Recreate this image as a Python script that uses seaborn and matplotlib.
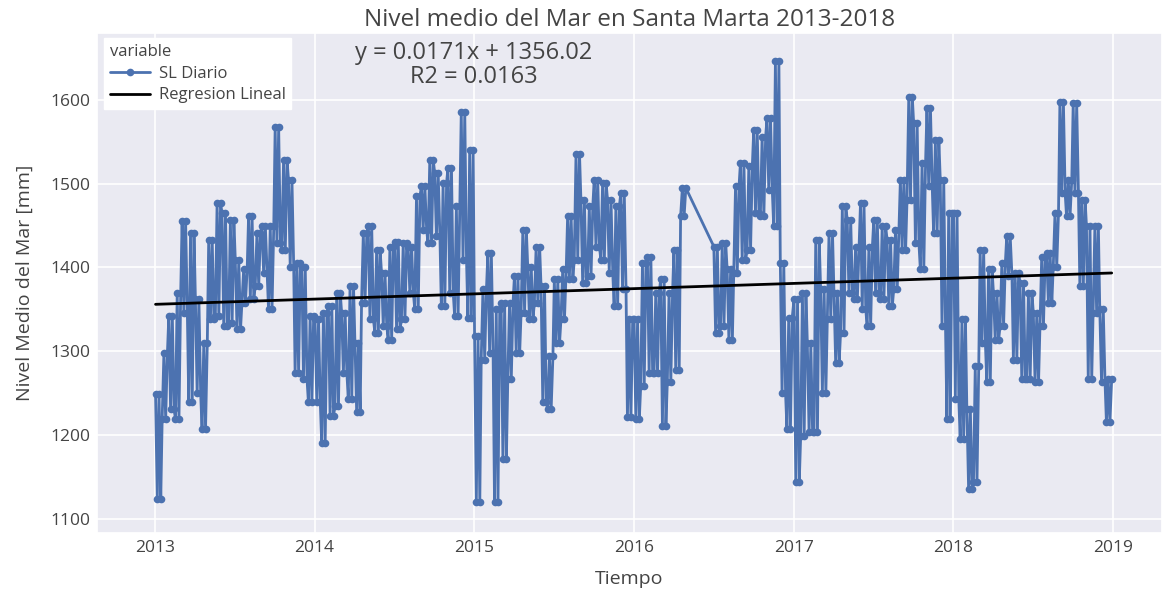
import pandas as pd
import seaborn as sns
import matplotlib.pyplot as plt
import matplotlib.dates as mdates

# Daily sea level read off the chart as half-month windows: upper and lower
# edge of the band in each window (mm). 2016 has a gap from May to early July.
win_full = list(range(24))
win_2016 = [0, 1, 2, 3, 4, 5, 6, 7, 12, 13, 14, 15, 16, 17, 18, 19, 20, 21, 22, 23]

hi_2013 = [1249, 1298, 1342, 1370, 1455, 1441, 1362, 1310, 1433, 1477, 1465, 1457,
           1409, 1398, 1461, 1441, 1449, 1449, 1568, 1528, 1505, 1405, 1401, 1342]
lo_2013 = [1124, 1219, 1231, 1219, 1346, 1239, 1250, 1207, 1338, 1342, 1330, 1334,
           1326, 1358, 1362, 1378, 1394, 1350, 1429, 1421, 1401, 1274, 1267, 1239]

hi_2014 = [1338, 1346, 1354, 1370, 1346, 1378, 1310, 1441, 1449, 1421, 1394, 1425,
           1431, 1429, 1425, 1485, 1497, 1528, 1513, 1501, 1519, 1473, 1586, 1540]
lo_2014 = [1239, 1191, 1223, 1235, 1274, 1243, 1227, 1358, 1338, 1322, 1330, 1314,
           1326, 1338, 1370, 1350, 1445, 1429, 1437, 1354, 1370, 1342, 1409, 1340]

hi_2015 = [1318, 1374, 1417, 1350, 1358, 1358, 1390, 1445, 1401, 1425, 1378, 1294,
           1386, 1398, 1461, 1536, 1481, 1473, 1505, 1501, 1481, 1473, 1489, 1338]
lo_2015 = [1120, 1290, 1298, 1120, 1171, 1267, 1298, 1346, 1338, 1358, 1239, 1231,
           1310, 1338, 1386, 1409, 1382, 1390, 1425, 1409, 1394, 1354, 1374, 1221]

hi_2016 = [1338, 1405, 1413, 1370, 1386, 1370, 1421, 1495,
           1425, 1429, 1398, 1497, 1525, 1521, 1564, 1556, 1578, 1646, 1405, 1340]
lo_2016 = [1219, 1259, 1274, 1274, 1211, 1263, 1278, 1461,
           1322, 1330, 1314, 1394, 1409, 1421, 1465, 1461, 1493, 1450, 1250, 1207]

hi_2017 = [1362, 1370, 1310, 1433, 1374, 1441, 1370, 1473, 1457, 1425, 1477, 1425,
           1457, 1449, 1433, 1445, 1505, 1604, 1572, 1525, 1590, 1552, 1505, 1465]
lo_2017 = [1144, 1199, 1203, 1203, 1250, 1338, 1286, 1322, 1370, 1362, 1350, 1330,
           1370, 1362, 1354, 1374, 1421, 1481, 1429, 1398, 1497, 1441, 1330, 1219]

hi_2018 = [1465, 1338, 1231, 1282, 1421, 1398, 1370, 1405, 1437, 1394, 1382, 1370,
           1346, 1413, 1417, 1465, 1598, 1505, 1596, 1481, 1449, 1449, 1350, 1267]
lo_2018 = [1243, 1195, 1136, 1144, 1310, 1263, 1314, 1330, 1390, 1290, 1267, 1267,
           1263, 1330, 1358, 1401, 1489, 1461, 1489, 1378, 1267, 1346, 1263, 1215]

# regression shown on the chart (x = days since first record)
slope = 0.0171
intercept = 1356.02
r2 = 0.0163

years = {
    2013: (win_full, hi_2013, lo_2013),
    2014: (win_full, hi_2014, lo_2014),
    2015: (win_full, hi_2015, lo_2015),
    2016: (win_2016, hi_2016, lo_2016),
    2017: (win_full, hi_2017, lo_2017),
    2018: (win_full, hi_2018, lo_2018),
}

# within each window the daily values swing between the band edges
rows = []
for yr, (wins, his, los) in years.items():
    for k, h, l in zip(wins, his, los):
        start = pd.Timestamp(yr, 1, 1) + pd.Timedelta(days=k * 365 / 24)
        seq = [h, l, h, l] if k % 2 == 0 else [l, h, l, h]
        for d, v in zip([1, 5, 9, 13], seq):
            rows.append((start + pd.Timedelta(days=d), v))
df = pd.DataFrame(rows, columns=["Tiempo", "SL Diario"])

t0 = df["Tiempo"].min()
df["Regresion Lineal"] = intercept + slope * (df["Tiempo"] - t0).dt.days

sns.set_theme(style="darkgrid", rc={"axes.facecolor": "#EAEAF2"})
plt.rcParams["font.family"] = ["Open Sans", "DejaVu Sans"]
txt = "#444444"

fig = plt.figure(figsize=(11.64, 5.92), dpi=100)
ax = fig.add_axes([0.0833, 0.0997, 0.915, 0.8446])

sns.lineplot(data=df, x="Tiempo", y="SL Diario", ax=ax, color="#4C72B0",
             marker="o", markersize=5.5, markeredgewidth=0, linewidth=2,
             label="SL Diario")
sns.lineplot(data=df, x="Tiempo", y="Regresion Lineal", ax=ax, color="black",
             linewidth=2, label="Regresion Lineal")

ax.set_xlim(pd.Timestamp("2012-08-21"), pd.Timestamp("2019-04-24"))
ax.set_ylim(1083, 1680)
ax.set_yticks([1100, 1200, 1300, 1400, 1500, 1600])
ax.xaxis.set_major_locator(mdates.YearLocator())
ax.xaxis.set_major_formatter(mdates.DateFormatter("%Y"))
ax.tick_params(colors=txt, labelsize=12.5, length=0, pad=5)
ax.grid(color="white", linewidth=1.2)

ax.set_xlabel("Tiempo", fontsize=14, color=txt, labelpad=10)
ax.set_ylabel("Nivel Medio del Mar [mm]", fontsize=14, color=txt, labelpad=12)
ax.set_title("Nivel medio del Mar en Santa Marta 2013-2018", fontsize=17.5,
             color=txt, pad=5)

ax.text(0.354, 0.936, f"y = {slope}x + {intercept}\nR2 = {r2}",
        transform=ax.transAxes, ha="center", va="center", fontsize=17,
        color=txt, linespacing=1.0)

leg = ax.legend(title="variable", loc="upper left", bbox_to_anchor=(0.007, 0.99),
                frameon=True, facecolor="white", edgecolor="white", framealpha=1,
                fancybox=False, fontsize=12, title_fontsize=12, handlelength=2.4,
                borderpad=0.35, labelspacing=0.35, handletextpad=0.5,
                borderaxespad=0)
leg._legend_box.align = "left"
for t in leg.get_texts():
    t.set_color(txt)
leg.get_title().set_color(txt)

fig.savefig("out.png", dpi=100)
